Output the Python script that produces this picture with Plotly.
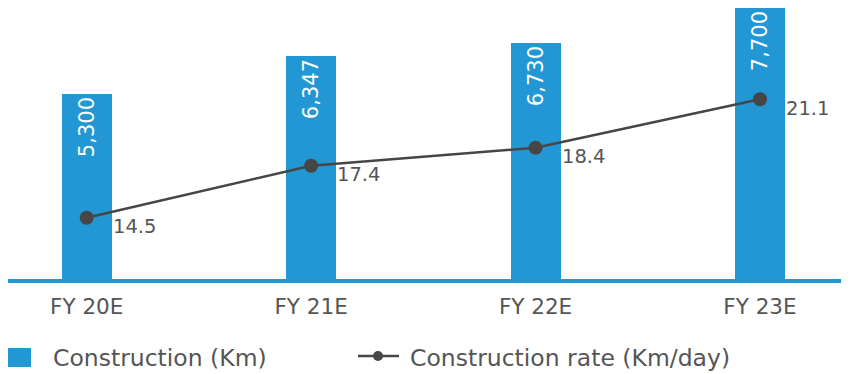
import plotly.graph_objects as go

categories = ["FY 20E", "FY 21E", "FY 22E", "FY 23E"]
construction_km = [5300, 6347, 6730, 7700]
construction_rate = [14.5, 17.4, 18.4, 21.1]
bar_name = "Construction (Km)"
line_name = "Construction rate (Km/day)"

BLUE = "#2297d4"
DARK = "#464646"
GREY = "#555555"
FONT = "DejaVu Sans"

# figure is placed by the page at an 8px body offset
W, H = 841, 366
ML, MR, MT, MB = 0, 0, 0, 91
PH = H - MT - MB  # plot height in px


def py(px_from_top):
    """convert a figure pixel y into paper y"""
    return (PH + MT - px_from_top) / PH


def px(px_from_left):
    return (px_from_left - ML) / (W - ML - MR)


fig = go.Figure()
fig.add_trace(go.Bar(
    x=categories, y=construction_km, name=bar_name,
    marker=dict(color=BLUE, line=dict(width=0)), width=0.223,
    text=[f"{v:,}" for v in construction_km], textposition="inside",
    insidetextanchor="end", textangle=-90,
    textfont=dict(color="white", size=21, family=FONT),
    cliponaxis=False,
))
fig.add_trace(go.Scatter(
    x=categories, y=construction_rate, name=line_name,
    yaxis="y2", mode="lines+markers",
    line=dict(color=DARK, width=2.5),
    marker=dict(color=DARK, size=14),
    cliponaxis=False,
))

for c, v in zip(categories, construction_rate):
    fig.add_annotation(x=c, y=v, yref="y2", text=f"{v}", showarrow=False,
                       xanchor="left", yanchor="middle", xshift=24, yshift=-9,
                       font=dict(color=GREY, size=19.5, family=FONT))

# baseline
fig.add_shape(type="line", xref="paper", x0=0, x1=1, yref="y", y0=0, y1=0,
              line=dict(color=BLUE, width=8), layer="above")

# legend (drawn manually to match symbol sizes)
fig.add_shape(type="rect", xref="paper", yref="paper",
              x0=px(0), x1=px(23), y0=py(340), y1=py(359),
              line=dict(width=0), fillcolor=BLUE)
fig.add_annotation(xref="paper", yref="paper", x=px(43), y=py(350.5),
                   text=bar_name, showarrow=False, xanchor="left", yanchor="middle",
                   font=dict(color=GREY, size=23.5, family=FONT))
fig.add_shape(type="line", xref="paper", yref="paper",
              x0=px(350), x1=px(391), y0=py(348), y1=py(348),
              line=dict(color=DARK, width=2.5))
fig.add_shape(type="circle", xref="paper", yref="paper",
              x0=px(365), x1=px(375), y0=py(343), y1=py(353),
              line=dict(width=0), fillcolor=DARK)
fig.add_annotation(xref="paper", yref="paper", x=px(400), y=py(350.5),
                   text=line_name, showarrow=False, xanchor="left", yanchor="middle",
                   font=dict(color=GREY, size=23.5, family=FONT))

fig.update_layout(
    width=W, height=H,
    margin=dict(l=ML, r=MR, t=MT, b=MB, autoexpand=False),
    plot_bgcolor="white", paper_bgcolor="white",
    font=dict(family=FONT, color=GREY, size=20),
    bargap=0,
    showlegend=False,
    xaxis=dict(range=[-0.3507, 3.3966], showgrid=False, zeroline=False,
               showline=False, ticks="outside", ticklen=4, tickcolor="rgba(0,0,0,0)",
               tickfont=dict(size=21.5, color=GREY, family=FONT)),
    yaxis=dict(range=[0, 7700], visible=False, showgrid=False, zeroline=False),
    yaxis2=dict(range=[10.86, 26.19], overlaying="y", visible=False,
                showgrid=False, zeroline=False),
)

fig.write_html("out.html")
